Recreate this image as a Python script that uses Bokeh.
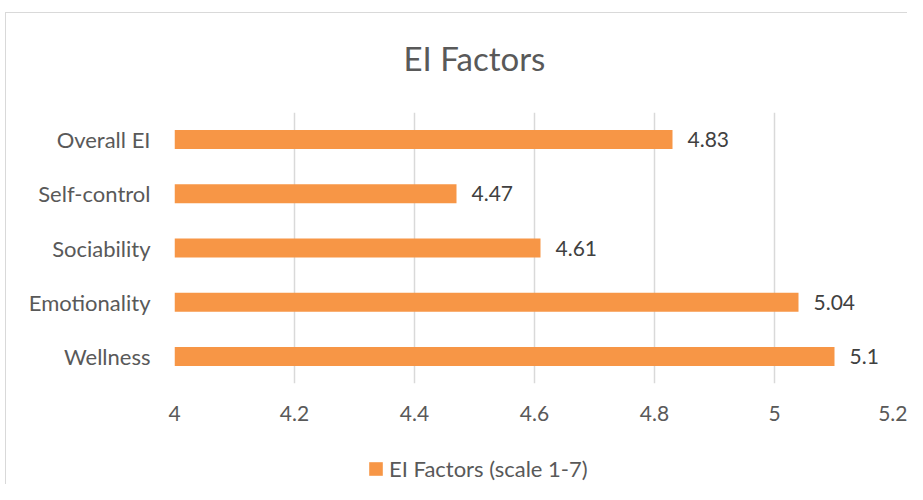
from bokeh.plotting import figure
from bokeh.layouts import column
from bokeh.models import ColumnDataSource, FactorRange, Range1d, FixedTicker, Legend, LegendItem
from bokeh.embed import file_html
from bokeh.resources import INLINE
from bokeh.core.properties import value

# Data
categories = ["Wellness", "Emotionality", "Sociability", "Self-control", "Overall EI"]
scores = [5.1, 5.04, 4.61, 4.47, 4.83]
score_labels = ["5.1", "5.04", "4.61", "4.47", "4.83"]
x_ticks = [4.0, 4.2, 4.4, 4.6, 4.8, 5.0, 5.2]
x_tick_labels = ["4", "4.2", "4.4", "4.6", "4.8", "5", "5.2"]
series_name = "EI Factors (scale 1-7)"
chart_title = "EI Factors"

FONT = "Lato"
TXT = "#595959"
BAR = "#F79646"
GRID = "#d9d9d9"

src = ColumnDataSource(dict(cat=categories, val=scores, lab=score_labels))

p = figure(width=907, height=440, output_backend="svg", toolbar_location=None,
           y_range=FactorRange(factors=categories, range_padding=0),
           x_range=Range1d(4.0, 5.2),
           min_border_left=174, min_border_right=13, min_border_top=112, min_border_bottom=57)

p.title.text = chart_title
p.title.align = "left"
p.title.offset = 229
p.title.text_font = FONT
p.title.text_font_size = "33px"
p.title.text_font_style = "normal"
p.title.text_color = TXT
p.title.standoff = 70

p.outline_line_color = None
p.border_fill_alpha = 0

bars = p.hbar(y="cat", right="val", left=4.0, height=0.35, source=src,
              fill_color=BAR, line_color=None)

p.text(x="val", y="cat", text="lab", source=src, x_offset=15,
       text_baseline="middle", text_align="left", text_font=value(FONT),
       text_font_size="21px", text_color="#404040")

# x axis
p.xaxis.ticker = FixedTicker(ticks=x_ticks)
p.xaxis.major_label_overrides = {t: l for t, l in zip(x_ticks, x_tick_labels)}
p.xaxis.axis_line_color = None
p.xaxis.major_tick_line_color = None
p.xaxis.major_tick_out = 0
p.xaxis.major_tick_in = 0
p.xaxis.minor_tick_line_color = None
p.xaxis.major_label_text_font = FONT
p.xaxis.major_label_text_font_size = "21px"
p.xaxis.major_label_text_color = TXT
p.xaxis.major_label_standoff = 22

# y axis
p.yaxis.axis_line_color = None
p.yaxis.major_tick_line_color = None
p.yaxis.major_tick_out = 0
p.yaxis.major_tick_in = 0
p.yaxis.major_label_text_font = FONT
p.yaxis.major_label_text_font_size = "22px"
p.yaxis.major_label_text_color = TXT
p.yaxis.major_label_standoff = 24

p.xgrid.ticker = FixedTicker(ticks=x_ticks)
p.xgrid.grid_line_color = GRID
p.xgrid.grid_line_width = 1.5
p.ygrid.grid_line_color = None

# legend strip below the chart (swatch renderer sits outside its visible range)
leg_src = ColumnDataSource(dict(y=[-5.0], right=[-5.0]))
p2 = figure(width=907, height=44, output_backend="svg", toolbar_location=None,
            x_range=Range1d(0, 1), y_range=Range1d(0, 1),
            min_border_left=0, min_border_right=0, min_border_top=0, min_border_bottom=0)
p2.axis.visible = False
p2.grid.visible = False
p2.outline_line_color = None
p2.border_fill_alpha = 0
p2.background_fill_alpha = 0
leg_r = p2.hbar(y="y", right="right", left=-6.0, height=0.5, source=leg_src,
                fill_color=BAR, line_color=None)
legend = Legend(items=[LegendItem(label=series_name, renderers=[leg_r])],
                location=(193, 2), orientation="horizontal",
                label_text_font=FONT, label_text_font_size="22px", label_text_color=TXT,
                glyph_width=17, glyph_height=17, padding=0, margin=0, spacing=0,
                label_standoff=5, border_line_color=None, background_fill_alpha=0)
p2.add_layout(legend, "center")

layout = column(p, p2, spacing=0)
layout.styles = {"background": "linear-gradient(#d9d9d9,#d9d9d9) 5px 12px / 1px 100% no-repeat, "
                               "linear-gradient(#d9d9d9,#d9d9d9) 5px 12px / 100% 1px no-repeat, white"}

open("out.html", "w").write(file_html(layout, INLINE))
